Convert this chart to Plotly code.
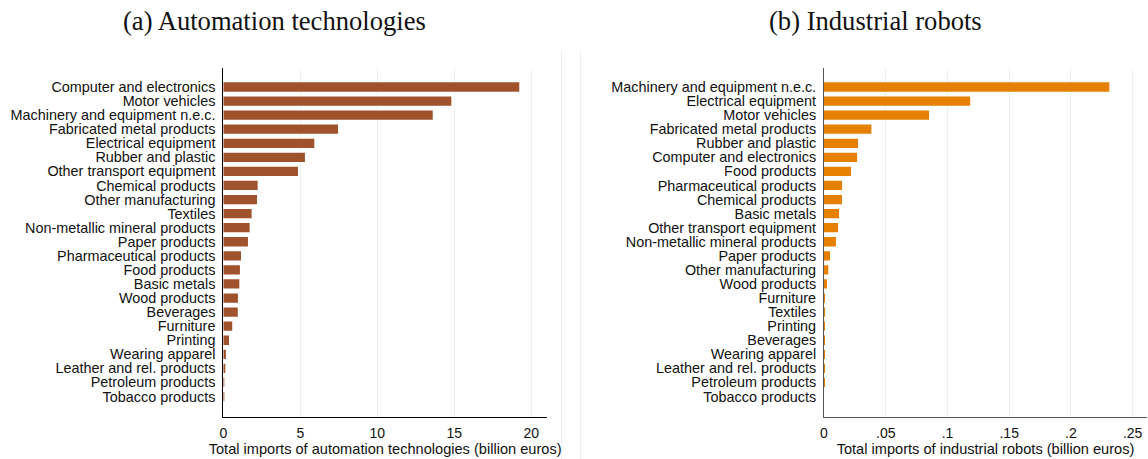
import plotly.graph_objects as go

# Panel (a): imports of automation technologies by sector, billion euros
auto_sectors = [
    "Computer and electronics", "Motor vehicles", "Machinery and equipment n.e.c.",
    "Fabricated metal products", "Electrical equipment", "Rubber and plastic",
    "Other transport equipment", "Chemical products", "Other manufacturing",
    "Textiles", "Non-metallic mineral products", "Paper products",
    "Pharmaceutical products", "Food products", "Basic metals", "Wood products",
    "Beverages", "Furniture", "Printing", "Wearing apparel",
    "Leather and rel. products", "Petroleum products", "Tobacco products",
]
auto_values = [
    19.22, 14.81, 13.6, 7.45, 5.91, 5.3, 4.85, 2.23, 2.19, 1.84, 1.71, 1.6,
    1.15, 1.08, 1.04, 0.95, 0.94, 0.58, 0.37, 0.17, 0.09, 0.05, 0.04,
]

# Panel (b): imports of industrial robots by sector, billion euros
robot_sectors = [
    "Machinery and equipment n.e.c.", "Electrical equipment", "Motor vehicles",
    "Fabricated metal products", "Rubber and plastic", "Computer and electronics",
    "Food products", "Pharmaceutical products", "Chemical products", "Basic metals",
    "Other transport equipment", "Non-metallic mineral products", "Paper products",
    "Other manufacturing", "Wood products", "Furniture", "Textiles", "Printing",
    "Beverages", "Wearing apparel", "Leather and rel. products",
    "Petroleum products", "Tobacco products",
]
robot_values = [
    0.2311, 0.1184, 0.0851, 0.0384, 0.0276, 0.0268, 0.0219, 0.0146, 0.0146,
    0.0122, 0.0114, 0.0097, 0.0049, 0.0035, 0.0024, 0.0004, 0.0003, 0.0003,
    0.0003, 0.0003, 0.0004, 0.0005, 0.0,
]

robot_ticks = [0, 0.05, 0.1, 0.15, 0.2, 0.25]
robot_ticktext = ["0", ".05", ".1", ".15", ".2", ".25"]
auto_ticks = [0, 5, 10, 15, 20]

W, H = 1148, 459
GRID = "#EAF2F3"
LABEL_FONT = dict(family="Liberation Sans, Arial, sans-serif", size=14.4, color="#111111")
TICK_FONT = dict(family="Liberation Sans, Arial, sans-serif", size=14, color="#111111")
AXTITLE_FONT = dict(family="Liberation Sans, Arial, sans-serif", size=14.6, color="#111111")
TITLE_FONT = dict(family="Liberation Serif, Times New Roman, serif", size=26.6, color="#111111")


def px_x(p):
    return p / W


def px_y(p):
    return 1 - p / H


fig = go.Figure()
fig.add_trace(go.Bar(
    x=auto_values, y=auto_sectors, orientation="h", width=0.66,
    marker=dict(color="#A0522D", line_width=0), xaxis="x", yaxis="y",
))
fig.add_trace(go.Bar(
    x=robot_values, y=robot_sectors, orientation="h", width=0.66,
    marker=dict(color="#E68000", line_width=0), xaxis="x2", yaxis="y2",
))

n = len(auto_sectors)
y_range = [n - 1 + 1.42, -1.35]
y_dom = [px_y(416.5), px_y(68)]

common_x = dict(
    showgrid=True, gridcolor=GRID, gridwidth=1, zeroline=False,
    showline=True, linewidth=1, ticks="", tickfont=TICK_FONT,
    fixedrange=True, automargin=False, ticklabelstandoff=4,
)
common_y = dict(
    type="category", range=y_range, domain=y_dom, showgrid=False, zeroline=False,
    showline=True, linewidth=1, ticks="", tickfont=LABEL_FONT,
    ticklabelstandoff=4, automargin=False, tickmode="array",
)

fig.update_layout(
    width=W, height=H,
    margin=dict(l=0, r=0, t=0, b=0, autoexpand=False),
    paper_bgcolor="white", plot_bgcolor="white",
    showlegend=False,
    xaxis=dict(
        domain=[px_x(223.3), px_x(547)], range=[0, 21.02], tickvals=auto_ticks,
        linecolor="#000000", anchor="y",
        title=dict(text="Total imports of automation technologies (billion euros)",
                   font=AXTITLE_FONT, standoff=3),
        **common_x,
    ),
    yaxis=dict(
        categoryorder="array", categoryarray=auto_sectors, tickvals=auto_sectors,
        anchor="x", linecolor="#000000", **common_y,
    ),
    xaxis2=dict(
        domain=[px_x(824), px_x(1147)], range=[0, 0.2616], tickvals=robot_ticks,
        ticktext=robot_ticktext, linecolor="#555555", anchor="y2",
        title=dict(text="Total imports of industrial robots (billion euros)",
                   font=AXTITLE_FONT, standoff=3),
        **common_x,
    ),
    yaxis2=dict(
        categoryorder="array", categoryarray=robot_sectors, tickvals=robot_sectors,
        anchor="x2", linecolor="#555555", **common_y,
    ),
    annotations=[
        dict(text="(a) Automation technologies", x=px_x(274), y=px_y(21),
             xref="paper", yref="paper", showarrow=False, font=TITLE_FONT,
             xanchor="center", yanchor="middle"),
        dict(text="(b) Industrial robots", x=px_x(875), y=px_y(21),
             xref="paper", yref="paper", showarrow=False, font=TITLE_FONT,
             xanchor="center", yanchor="middle"),
    ],
    shapes=[
        dict(type="line", xref="paper", yref="paper", x0=px_x(x), x1=px_x(x),
             y0=px_y(50), y1=0, line=dict(color="#EDF1F3", width=1))
        for x in (561.5, 580.5)
    ],
)

fig.write_html("out.html")
